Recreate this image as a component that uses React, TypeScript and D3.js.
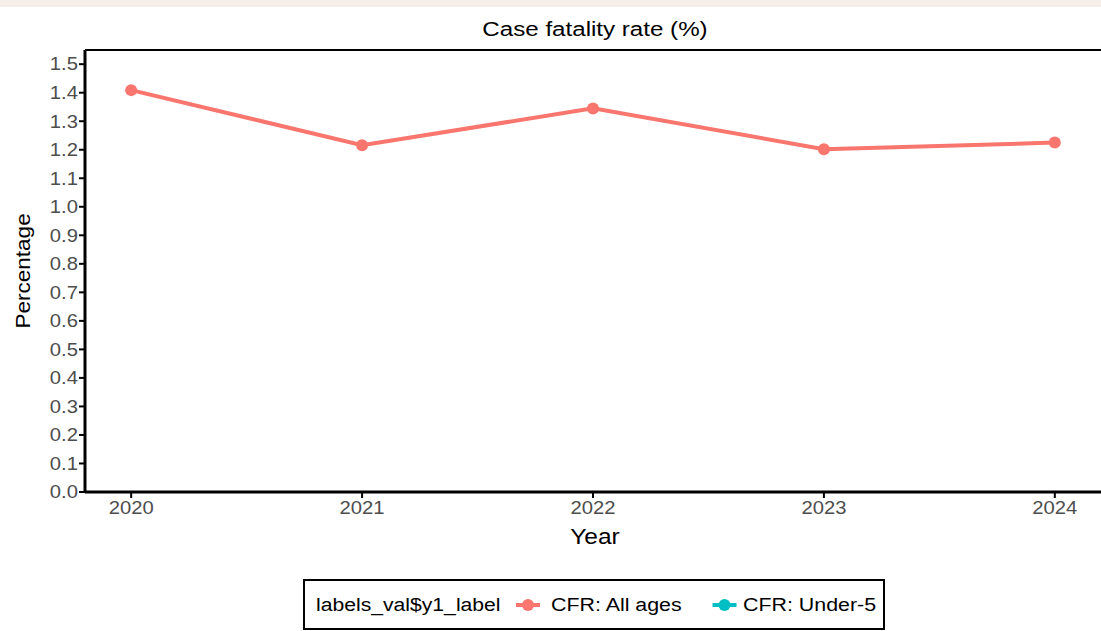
import React from "react";
import * as d3 from "d3";

const years = [2020, 2021, 2022, 2023, 2024];
const cfrAllAges = [1.409, 1.216, 1.345, 1.202, 1.225];
const yTicks = [0, 0.1, 0.2, 0.3, 0.4, 0.5, 0.6, 0.7, 0.8, 0.9, 1.0, 1.1, 1.2, 1.3, 1.4, 1.5];
const legendTitle = "labels_val$y1_label";
const legendItems = [
  { label: "CFR: All ages", color: "#F8766D" },
  { label: "CFR: Under-5", color: "#00BFC4" },
];

const W = 1101, H = 631;
const left = 85, right = 1101, top = 50, bottom = 492;
const font = "'Liberation Sans', Arial, sans-serif";
const SX = 1.15;

function T(props: { x: number; y: number; size: number; anchor?: string; fill?: string; rot?: number; sx?: number; children: React.ReactNode }) {
  const { x, y, size, anchor = "start", fill = "#000", rot = 0, sx = SX, children } = props;
  return (
    <text
      transform={`translate(${x},${y}) rotate(${rot}) scale(${sx},1)`}
      textAnchor={anchor}
      fontSize={size}
      fill={fill}
    >
      {children}
    </text>
  );
}

export default function App() {
  const x = d3.scaleLinear().domain([2019.8, 2024.2]).range([left, right]);
  const y = d3.scaleLinear().domain([0, 1.5497]).range([bottom, top]);
  const data = years.map((yr, i) => ({ yr, v: cfrAllAges[i] }));
  const line = d3.line<{ yr: number; v: number }>().x(d => x(d.yr)).y(d => y(d.v));

  return (
    <svg width={W} height={H} style={{ position: "absolute", left: 0, top: 0, fontFamily: font }}>
      <rect x={0} y={0} width={W} height={H} fill="#fff" />
      <rect x={0} y={0} width={W} height={7} fill="#f6eee9" />
      <T x={595} y={36} size={21} anchor="middle">Case fatality rate (%)</T>
      {/* panel border */}
      <line x1={left} x2={right} y1={top} y2={top} stroke="#000" strokeWidth={2} />
      <line x1={left} x2={left} y1={top} y2={bottom} stroke="#000" strokeWidth={3} />
      <line x1={left} x2={right} y1={bottom} y2={bottom} stroke="#000" strokeWidth={3} />
      {yTicks.map(t => (
        <g key={t}>
          <line x1={left - 6} x2={left} y1={y(t)} y2={y(t)} stroke="#000" strokeWidth={2} />
          <T x={left - 7} y={y(t) + 6.3} size={17.6} anchor="end" fill="#4d4d4d">{t.toFixed(1)}</T>
        </g>
      ))}
      {years.map(yr => (
        <g key={yr}>
          <line x1={x(yr)} x2={x(yr)} y1={bottom} y2={bottom + 6} stroke="#000" strokeWidth={2} />
          <T x={x(yr)} y={bottom + 22} size={17.6} anchor="middle" fill="#4d4d4d">{yr}</T>
        </g>
      ))}
      <T x={595} y={544} size={21.3} anchor="middle">Year</T>
      <T x={30} y={y(0.775)} size={20.5} anchor="middle" rot={-90} sx={1.1}>Percentage</T>
      <path d={line(data) || ""} fill="none" stroke="#F8766D" strokeWidth={4} />
      {data.map(d => (
        <circle key={d.yr} cx={x(d.yr)} cy={y(d.v)} r={6} fill="#F8766D" />
      ))}
      {/* legend */}
      <rect x={304} y={580} width={580} height={49} fill="#fff" stroke="#000" strokeWidth={2} />
      <T x={316} y={611} size={18.4}>{legendTitle}</T>
      {legendItems.map((it, i) => {
        const kx = [528, 724.5][i];
        const tx = [551, 743][i];
        return (
          <g key={it.label}>
            <line x1={kx - 12} x2={kx + 12} y1={605} y2={605} stroke={it.color} strokeWidth={4} />
            <circle cx={kx} cy={605} r={6} fill={it.color} />
            <T x={tx} y={611} size={18.6}>{it.label}</T>
          </g>
        );
      })}
    </svg>
  );
}
